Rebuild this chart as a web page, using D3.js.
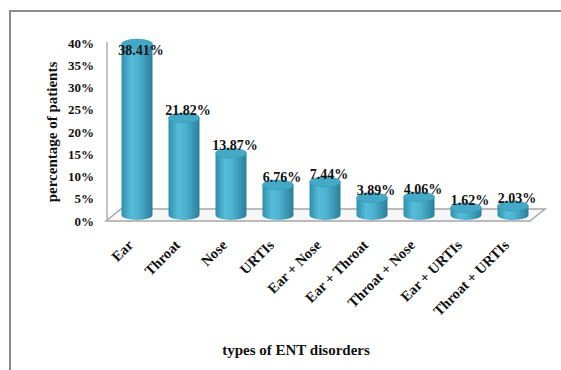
<!DOCTYPE html>
<html>
<head>
<meta charset="utf-8">
<script src="https://cdn.jsdelivr.net/npm/d3@7"></script>
<style>
  html, body { margin: 0; padding: 0; background: #fff; }
  svg { display: block; }
  text { font-family: "Liberation Serif", "Times New Roman", serif; font-weight: bold; fill: #111; }
</style>
</head>
<body>
<script>
// ENT disorder categories and share of patients (%)
const categories = ["Ear", "Throat", "Nose", "URTIs", "Ear + Nose", "Ear + Throat", "Throat + Nose", "Ear + URTIs", "Throat + URTIs"];
const values = [38.41, 21.82, 13.87, 6.76, 7.44, 3.89, 4.06, 1.62, 2.03];
const yTicks = [0, 5, 10, 15, 20, 25, 30, 35, 40];
const yTitle = "percentage of patients";
const xTitle = "types of ENT disorders";

const W = 561, H = 370;
const svg = d3.select("body").append("svg").attr("width", W).attr("height", H);

// outer frame
svg.append("rect").attr("x", 10).attr("y", 11).attr("width", W + 20).attr("height", H + 20)
  .attr("fill", "none").attr("stroke", "#8c8c8c").attr("stroke-width", 2);

const y = d3.scaleLinear().domain([0, 40]).range([221, 43]);
const x = d3.scalePoint().domain(categories).range([137, 513]);

// 3D depth of the floor
const depthX = 15, depthY = -12;
const floorLeft = 106, floorRight = 530;

// floor
const y0 = y(0);
svg.append("path")
  .attr("d", `M${floorLeft},${y0} L${floorLeft + depthX},${y0 + depthY} L${floorRight + depthX},${y0 + depthY} L${floorRight},${y0} Z`)
  .attr("fill", "#f7f7f7").attr("stroke", "#a6a6a6").attr("stroke-width", 1.5);

// vertical axis line
svg.append("line").attr("x1", 107).attr("x2", 107).attr("y1", y(40) - 1).attr("y2", y0)
  .attr("stroke", "#b0b0b0").attr("stroke-width", 1.5);

// y tick labels
svg.append("g").selectAll("text").data(yTicks).join("text")
  .attr("x", 94).attr("y", d => y(d)).attr("dy", "0.35em")
  .attr("text-anchor", "end").attr("font-size", 13)
  .text(d => d + "%");

// y axis title
svg.append("text")
  .attr("transform", `translate(52,132) rotate(-90)`)
  .attr("text-anchor", "middle").attr("dy", "0.35em").attr("font-size", 15)
  .text(yTitle);

// cylinder shading
const defs = svg.append("defs");
const grad = defs.append("linearGradient").attr("id", "cyl").attr("x1", "0").attr("x2", "1").attr("y1", "0").attr("y2", "0");
grad.append("stop").attr("offset", "0%").attr("stop-color", "#2f8eab");
grad.append("stop").attr("offset", "30%").attr("stop-color", "#55bcd9");
grad.append("stop").attr("offset", "55%").attr("stop-color", "#4cb2cf");
grad.append("stop").attr("offset", "100%").attr("stop-color", "#2a7f9b");

const rx = 15.5, ry = 5;
const midDepth = depthY / 2;
const bars = svg.append("g").selectAll("g").data(categories).join("g");

bars.append("path")
  .attr("d", (c, i) => {
    const cx = x(c), top = y(values[i]) + midDepth, base = y0 + midDepth;
    return `M${cx - rx},${top} L${cx - rx},${base} A${rx},${ry} 0 0 0 ${cx + rx},${base} L${cx + rx},${top} Z`;
  })
  .attr("fill", "url(#cyl)");

bars.append("ellipse")
  .attr("cx", c => x(c))
  .attr("cy", (c, i) => y(values[i]) + midDepth)
  .attr("rx", rx).attr("ry", ry)
  .attr("fill", "#43a9c6").attr("stroke", "#3797b4").attr("stroke-width", 0.5);

// value labels
bars.append("text")
  .attr("x", c => x(c) + 4)
  .attr("y", (c, i) => Math.max(y(values[i]) + midDepth - 8, 50))
  .attr("dy", "0.35em").attr("text-anchor", "middle").attr("font-size", 14)
  .text((c, i) => values[i].toFixed(2) + "%");

// category labels
svg.append("g").selectAll("text").data(categories).join("text")
  .attr("transform", c => `translate(${x(c) - 3},246) rotate(-45)`)
  .attr("text-anchor", "end").attr("font-size", 14.5)
  .text(c => c);

// x axis title
svg.append("text")
  .attr("x", 296).attr("y", 350).attr("dy", "0.35em")
  .attr("text-anchor", "middle").attr("font-size", 15)
  .text(xTitle);
</script>
</body>
</html>
